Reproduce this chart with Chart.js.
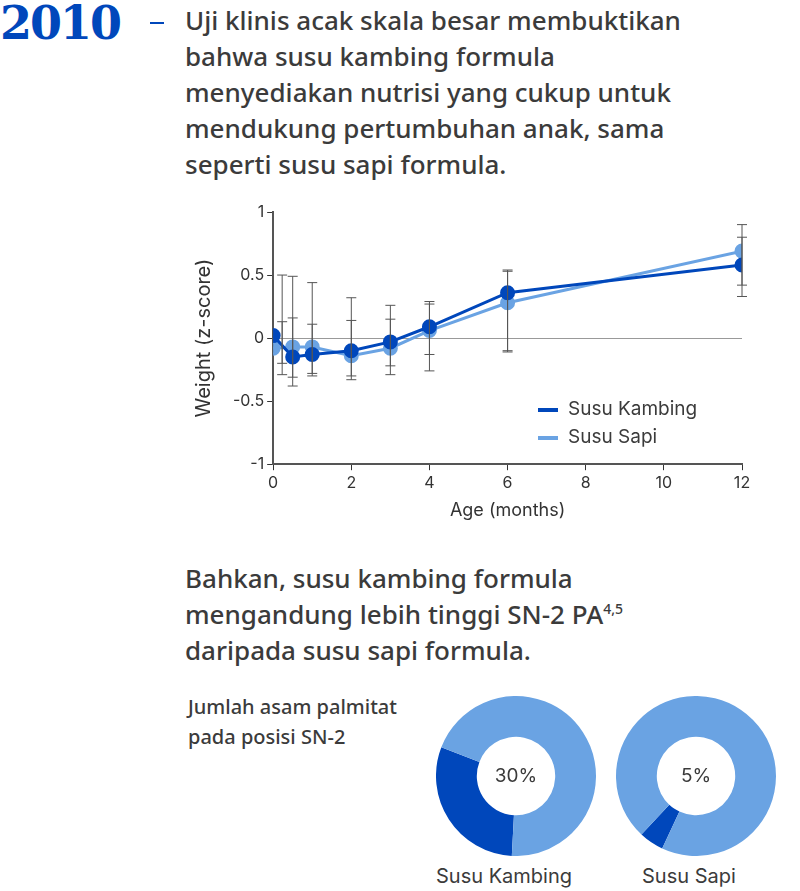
<!DOCTYPE html>
<html>
<head>
<meta charset="UTF-8">
<script src="https://cdn.jsdelivr.net/npm/chart.js"></script>
<style>
  body { margin:0; width:800px; height:891px; background:#fff; font-family:"Noto Sans",sans-serif; color:#3b3b3b; position:relative; overflow:hidden; }
  .year { position:absolute; left:0; top:-4px; font-family:"DejaVu Serif",serif; font-weight:bold; font-size:46px; color:#0047bb; letter-spacing:-2px; }
  .dash { position:absolute; left:150px; top:22px; width:14px; height:2px; background:#0047bb; }
  .p { position:absolute; left:185px; font-size:26px; font-weight:500; line-height:36px; color:#3b3b3b; }
  .p sup { font-size:14px; line-height:0; }
  .label { position:absolute; font-size:20px; font-weight:500; line-height:30px; }
  .cap { position:absolute; font-size:20px; font-family:Inter,sans-serif; }
  .box { position:absolute; }
  .leg { position:absolute; left:538px; font-family:Inter,sans-serif; font-size:19px; color:#3b3b3b; }
  .leg span { display:inline-block; width:20px; height:4px; vertical-align:middle; margin-right:10px; }
</style>
</head>
<body>
<div class="year">2010</div>
<div class="dash"></div>
<div class="p" style="top:2px">Uji klinis acak skala besar membuktikan<br>bahwa susu kambing formula<br>menyediakan nutrisi yang cukup untuk<br>mendukung pertumbuhan anak, sama<br>seperti susu sapi formula.</div>
<div class="box" style="left:180px;top:195px;width:580px;height:330px"><canvas id="line"></canvas></div>
<div class="leg" style="top:397px"><span style="background:#0047bb"></span>Susu Kambing</div>
<div class="leg" style="top:425px"><span style="background:#6aa3e3"></span>Susu Sapi</div>
<div class="p" style="top:560px">Bahkan, susu kambing formula<br>mengandung lebih tinggi SN-2 PA<sup>4,5</sup><br>daripada susu sapi formula.</div>
<div class="label" style="left:188px;top:692px">Jumlah asam palmitat<br>pada posisi SN-2</div>
<div class="box" style="left:436px;top:696px;width:160px;height:160px"><canvas id="d1"></canvas></div>
<div class="box" style="left:616px;top:696px;width:160px;height:160px"><canvas id="d2"></canvas></div>
<div class="cap" style="left:436px;top:864px">Susu Kambing</div>
<div class="cap" style="left:642px;top:864px">Susu Sapi</div>
<script>
const ages = [0, 0.5, 1, 2, 3, 4, 6, 12];
const kambing = [0.02, -0.15, -0.13, -0.10, -0.03, 0.09, 0.36, 0.58];
const sapi = [-0.08, -0.07, -0.07, -0.14, -0.08, 0.06, 0.28, 0.69];
const kambingLo = [-0.20, -0.38, -0.30, -0.33, -0.29, -0.13, -0.11, 0.33];
const kambingHi = [0.50, 0.16, 0.44, 0.32, 0.26, 0.29, 0.54, 0.80];
const sapiLo = [-0.29, -0.31, -0.28, -0.30, -0.22, -0.26, -0.10, 0.42];
const sapiHi = [0.13, 0.49, 0.11, 0.14, 0.15, 0.27, 0.53, 0.90];
const yTicks = [-1, -0.5, 0, 0.5, 1];
const pieLabels = ['SN-2 PA', 'Lainnya'];
const kambingPct = [30, 70];
const sapiPct = [5, 95];

const dark = '#0047bb', light = '#6aa3e3', grey = '#555';
const tf = { family: 'Inter, sans-serif', size: 16 };

const errorBars = {
  id: 'errorBars',
  afterDatasetsDraw(chart) {
    const ctx = chart.ctx, x = chart.scales.x, y = chart.scales.y;
    ctx.save();
    ctx.strokeStyle = grey; ctx.lineWidth = 1;
    [[kambingLo, kambingHi], [sapiLo, sapiHi]].forEach(([lo, hi]) => {
      ages.forEach((a, i) => {
        const px = x.getPixelForValue(a) + (a === 0 ? 9 : 0);
        const y1 = y.getPixelForValue(lo[i]), y2 = y.getPixelForValue(hi[i]);
        ctx.beginPath();
        ctx.moveTo(px, y1); ctx.lineTo(px, y2);
        ctx.moveTo(px - 5, y1); ctx.lineTo(px + 5, y1);
        ctx.moveTo(px - 5, y2); ctx.lineTo(px + 5, y2);
        ctx.stroke();
      });
    });
    ctx.restore();
  }
};

new Chart(document.getElementById('line'), {
  type: 'line',
  data: {
    datasets: [
      { label: 'Susu Sapi', data: ages.map((a, i) => ({ x: a, y: sapi[i] })), borderColor: light, backgroundColor: light, borderWidth: 3, pointRadius: 6, order: 2 },
      { label: 'Susu Kambing', data: ages.map((a, i) => ({ x: a, y: kambing[i] })), borderColor: dark, backgroundColor: dark, borderWidth: 3, pointRadius: 6, order: 1 }
    ]
  },
  options: {
    responsive: true, maintainAspectRatio: false, animation: false,
    layout: { padding: { right: 18, top: 17, left: 8 } },
    plugins: { legend: { display: false }, tooltip: { enabled: false } },
    scales: {
      x: {
        type: 'linear', min: 0, max: 12,
        afterBuildTicks: ax => { ax.ticks = [0, 2, 4, 6, 8, 10, 12].map(v => ({ value: v })); },
        grid: { drawOnChartArea: false, tickLength: 6, color: '#333' },
        border: { color: '#555', width: 2 },
        ticks: { font: tf, color: '#333' },
        title: { display: true, text: 'Age (months)', font: { family: 'Inter, sans-serif', size: 18 }, color: '#333' }
      },
      y: {
        min: -1, max: 1,
        afterBuildTicks: ax => { ax.ticks = yTicks.map(v => ({ value: v })); },
        grid: { color: c => c.tick.value === 0 ? '#999' : 'transparent', tickLength: 6, tickColor: '#333' },
        border: { color: '#555', width: 2 },
        ticks: { font: tf, color: '#333', callback: v => String(v) },
        title: { display: true, text: 'Weight (z-score)', font: { family: 'Inter, sans-serif', size: 20 }, color: '#333', padding: { bottom: 14 } }
      }
    }
  },
  plugins: [errorBars]
});

const centerText = {
  id: 'centerText',
  afterDraw(chart, args, opts) {
    const { ctx, chartArea: a } = chart;
    ctx.save();
    ctx.font = '19px Inter, sans-serif'; ctx.fillStyle = '#3b3b3b';
    ctx.textAlign = 'center'; ctx.textBaseline = 'middle';
    ctx.fillText(opts.text, (a.left + a.right) / 2, (a.top + a.bottom) / 2);
    ctx.restore();
  }
};

function donut(id, values, rot) {
  new Chart(document.getElementById(id), {
    type: 'doughnut',
    data: { labels: pieLabels, datasets: [{ data: values, backgroundColor: [dark, light], borderWidth: 0 }] },
    options: {
      responsive: true, maintainAspectRatio: false, animation: false, cutout: '49%', rotation: rot,
      plugins: { legend: { display: false }, tooltip: { enabled: false }, centerText: { text: values[0] + '%' } }
    },
    plugins: [centerText]
  });
}
donut('d1', kambingPct, 183);
donut('d2', sapiPct, 205);
</script>
</body>
</html>
